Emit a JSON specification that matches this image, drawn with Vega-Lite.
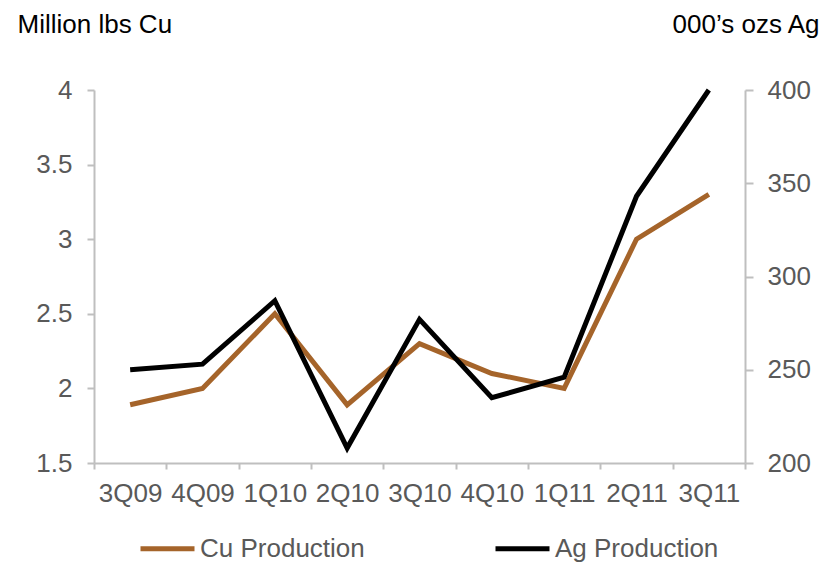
{
  "$schema": "https://vega.github.io/schema/vega-lite/v6.json",
  "width": 651,
  "height": 373,
  "autosize": {"type": "none"},
  "padding": {"left": 94, "top": 90, "right": 76, "bottom": 100},
  "background": "white",
  "config": {
    "view": {"stroke": null},
    "font": "Liberation Sans",
    "axis": {
      "grid": false,
      "domainColor": "#BFBFBF",
      "domainWidth": 2,
      "tickColor": "#BFBFBF",
      "tickWidth": 2,
      "labelFont": "Liberation Sans",
      "labelFontSize": 26,
      "labelColor": "#595959",
      "titleFont": "Liberation Sans",
      "titleFontSize": 26,
      "titleFontWeight": "normal",
      "titleColor": "#000000"
    }
  },
  "data": {
    "values": [
      {"quarter": "3Q09", "Cu": 1.89, "Ag": 250},
      {"quarter": "4Q09", "Cu": 2.0, "Ag": 253},
      {"quarter": "1Q10", "Cu": 2.5, "Ag": 287},
      {"quarter": "2Q10", "Cu": 1.89, "Ag": 208},
      {"quarter": "3Q10", "Cu": 2.3, "Ag": 277},
      {"quarter": "4Q10", "Cu": 2.1, "Ag": 235},
      {"quarter": "1Q11", "Cu": 2.0, "Ag": 246},
      {"quarter": "2Q11", "Cu": 3.0, "Ag": 343},
      {"quarter": "3Q11", "Cu": 3.3, "Ag": 400}
    ]
  },
  "encoding": {
    "x": {
      "field": "quarter",
      "type": "nominal",
      "sort": null,
      "scale": {"paddingInner": 0, "paddingOuter": 0},
      "axis": {
        "title": null,
        "labelAngle": 0,
        "tickBand": "extent",
        "tickSize": 6,
        "labelPadding": 11
      }
    }
  },
  "layer": [
    {
      "mark": {"type": "line", "strokeWidth": 5, "clip": false},
      "encoding": {
        "y": {
          "field": "Cu",
          "type": "quantitative",
          "scale": {"domain": [1.5, 4], "zero": false, "nice": false},
          "axis": {
            "orient": "left",
            "values": [1.5, 2, 2.5, 3, 3.5, 4],
            "format": "~g",
            "tickSize": 7,
            "labelPadding": 15,
            "title": "Million lbs Cu",
            "titleAngle": 0,
            "titleAlign": "left",
            "titleBaseline": "alphabetic",
            "titleX": -77,
            "titleY": -58
          }
        },
        "color": {
          "datum": "Cu Production",
          "type": "nominal",
          "scale": {"domain": ["Cu Production", "Ag Production"], "range": ["#A5642A", "#000000"]},
          "legend": {
            "title": null,
            "orient": "none",
            "direction": "horizontal",
            "legendX": 44,
            "legendY": 429,
            "padding": 0,
            "offset": 0,
            "symbolType": "stroke",
            "symbolSize": 2916,
            "symbolStrokeWidth": 5,
            "labelOffset": 3,
            "columnPadding": 120,
            "labelFont": "Liberation Sans",
            "labelFontSize": 26,
            "labelColor": "#595959",
            "labelLimit": 400
          }
        }
      }
    },
    {
      "mark": {"type": "line", "strokeWidth": 5, "clip": false},
      "encoding": {
        "y": {
          "field": "Ag",
          "type": "quantitative",
          "scale": {"domain": [200, 400], "zero": false, "nice": false},
          "axis": {
            "orient": "right",
            "values": [200, 250, 300, 350, 400],
            "tickSize": 8,
            "labelPadding": 14,
            "title": "000’s ozs Ag",
            "titleAngle": 0,
            "titleAlign": "right",
            "titleBaseline": "alphabetic",
            "titleX": 74,
            "titleY": -58
          }
        },
        "color": {"datum": "Ag Production", "type": "nominal"}
      }
    }
  ],
  "resolve": {"scale": {"y": "independent"}}
}
